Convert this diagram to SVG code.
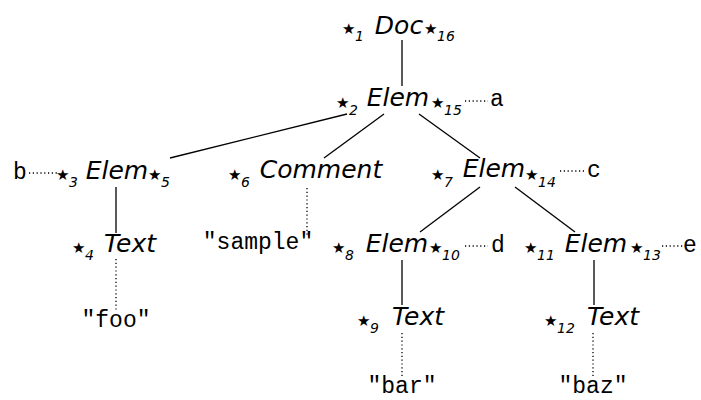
<svg xmlns="http://www.w3.org/2000/svg" width="701" height="400" viewBox="0 0 701 400">
<style>
.n{font-family:"DejaVu Sans",sans-serif;font-style:oblique;font-size:25px;fill:#000;text-anchor:middle}
.s{font-family:"DejaVu Sans",sans-serif;font-style:oblique;font-size:14px;fill:#000}
.st{font-style:normal;font-size:15px}
.m{font-family:"Liberation Mono",monospace;font-size:23px;fill:#000;text-anchor:middle}
.e{stroke:#000;stroke-width:1.3;fill:none}
.d{stroke:#000;stroke-width:1.3;fill:none;stroke-dasharray:1.2 2.6}
</style>
<rect width="701" height="400" fill="#fff"/>
<g id="connectors">
<line class="e" x1="402" y1="40" x2="402" y2="86"/>
<line class="e" x1="347" y1="114" x2="170" y2="158"/>
<line class="e" x1="384" y1="114" x2="324" y2="158"/>
<line class="e" x1="419" y1="114" x2="480" y2="158"/>
<line class="e" x1="116" y1="187" x2="116" y2="233"/>
<line class="e" x1="480" y1="187" x2="420" y2="232"/>
<line class="e" x1="515" y1="187" x2="575" y2="232"/>
<line class="e" x1="402" y1="260" x2="402" y2="305"/>
<line class="e" x1="594" y1="260" x2="594" y2="305"/>
<line class="d" x1="465" y1="101" x2="488" y2="101"/>
<line class="d" x1="29" y1="173" x2="57" y2="173"/>
<line class="d" x1="560" y1="171" x2="585" y2="171"/>
<line class="d" x1="465" y1="246" x2="488" y2="246"/>
<line class="d" x1="662" y1="246" x2="686" y2="246"/>
<line class="d" x1="116" y1="259" x2="116" y2="310"/>
<line class="d" x1="307" y1="188" x2="307" y2="235"/>
<line class="d" x1="402" y1="333" x2="402" y2="378"/>
<line class="d" x1="593" y1="333" x2="593" y2="378"/>
</g>
<g id="doc">
<text class="n" x="399" y="34">Doc</text>
<text class="s" x="342" y="41"><tspan class="st" dy="-7">★</tspan><tspan x="355" dy="7">1</tspan></text>
<text class="s" x="424" y="41"><tspan class="st" dy="-7">★</tspan><tspan x="437" dy="7">16</tspan></text>
</g>
<g id="elem-a">
<text class="n" x="398" y="106">Elem</text>
<text class="s" x="336" y="115"><tspan class="st" dy="-7">★</tspan><tspan x="349" dy="7">2</tspan></text>
<text class="s" x="431" y="115"><tspan class="st" dy="-7">★</tspan><tspan x="444" dy="7">15</tspan></text>
</g>
<g id="label-a"><text class="m" x="497" y="106">a</text></g>
<g id="elem-b">
<text class="n" x="117" y="179">Elem</text>
<text class="s" x="56" y="187"><tspan class="st" dy="-7">★</tspan><tspan x="69" dy="7">3</tspan></text>
<text class="s" x="148" y="187"><tspan class="st" dy="-7">★</tspan><tspan x="161" dy="7">5</tspan></text>
</g>
<g id="label-b"><text class="m" x="20" y="179">b</text></g>
<g id="text-4">
<text class="n" x="130" y="252">Text</text>
<text class="s" x="72" y="260"><tspan class="st" dy="-7">★</tspan><tspan x="85" dy="7">4</tspan></text>
</g>
<g id="str-foo"><text class="m" x="116" y="327">"foo"</text></g>
<g id="comment">
<text class="n" x="321" y="178">Comment</text>
<text class="s" x="228" y="187"><tspan class="st" dy="-7">★</tspan><tspan x="241" dy="7">6</tspan></text>
</g>
<g id="str-sample"><text class="m" x="258" y="249">"sample"</text></g>
<g id="elem-c">
<text class="n" x="494" y="177">Elem</text>
<text class="s" x="431" y="187"><tspan class="st" dy="-7">★</tspan><tspan x="444" dy="7">7</tspan></text>
<text class="s" x="525" y="187"><tspan class="st" dy="-7">★</tspan><tspan x="538" dy="7">14</tspan></text>
</g>
<g id="label-c"><text class="m" x="594" y="177">c</text></g>
<g id="elem-d">
<text class="n" x="397" y="252">Elem</text>
<text class="s" x="332" y="260"><tspan class="st" dy="-7">★</tspan><tspan x="345" dy="7">8</tspan></text>
<text class="s" x="429" y="260"><tspan class="st" dy="-7">★</tspan><tspan x="442" dy="7">10</tspan></text>
</g>
<g id="label-d"><text class="m" x="498" y="252">d</text></g>
<g id="elem-e">
<text class="n" x="596" y="252">Elem</text>
<text class="s" x="524" y="260"><tspan class="st" dy="-7">★</tspan><tspan x="537" dy="7">11</tspan></text>
<text class="s" x="630" y="260"><tspan class="st" dy="-7">★</tspan><tspan x="643" dy="7">13</tspan></text>
</g>
<g id="label-e"><text class="m" x="690" y="252">e</text></g>
<g id="text-9">
<text class="n" x="418" y="325">Text</text>
<text class="s" x="357" y="333"><tspan class="st" dy="-7">★</tspan><tspan x="370" dy="7">9</tspan></text>
</g>
<g id="str-bar"><text class="m" x="402" y="393">"bar"</text></g>
<g id="text-12">
<text class="n" x="613" y="325">Text</text>
<text class="s" x="544" y="333"><tspan class="st" dy="-7">★</tspan><tspan x="557" dy="7">12</tspan></text>
</g>
<g id="str-baz"><text class="m" x="593" y="393">"baz"</text></g>
</svg>
